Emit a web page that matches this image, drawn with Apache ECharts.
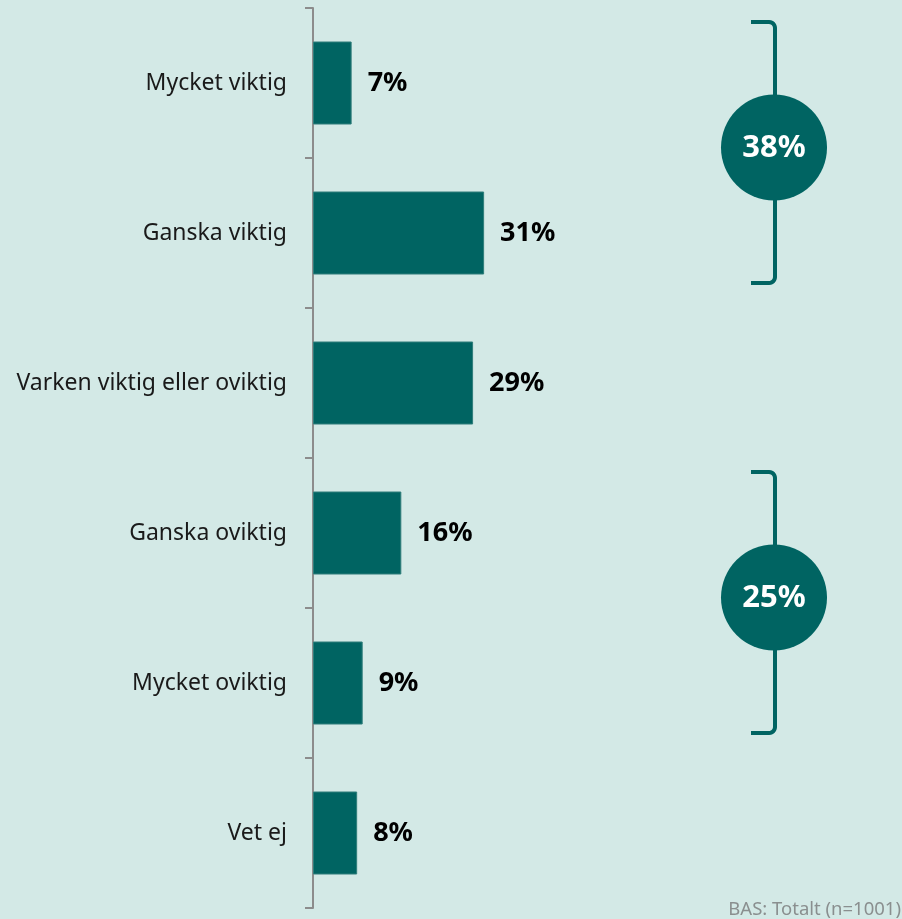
<!DOCTYPE html>
<html lang="sv">
<head>
    <meta charset="utf-8">
    <title>Viktighet</title>
    <script src="https://cdn.jsdelivr.net/npm/echarts@6/dist/echarts.min.js"></script>
    <style>
        html, body { margin: 0; padding: 0; background: #d3e9e6; }
        #chart { width: 902px; height: 919px; }
    </style>
</head>
<body>
<div id="chart"></div>

<script>
    // data
    var categories = ['Mycket viktig', 'Ganska viktig', 'Varken viktig eller oviktig', 'Ganska oviktig', 'Mycket oviktig', 'Vet ej'];
    var values = [7, 31, 29, 16, 9, 8];
    // sammanslagna grupper: index från/till + summa
    var groupFrom = [0, 3];
    var groupTo = [1, 4];
    var groupValues = [38, 25];
    var footnote = 'BAS: Totalt (n=1001)';

    var teal = '#006462';
    var font = '"Noto Sans", sans-serif';

    var chart = echarts.init(document.getElementById('chart'));
    chart.setOption({
        backgroundColor: '#d3e9e6',
        animation: false,
        grid: { left: 313, top: 8, width: 552, height: 900, containLabel: false },
        xAxis: {
            type: 'value', min: 0, max: 100,
            show: false
        },
        yAxis: {
            type: 'category',
            inverse: true,
            data: categories,
            axisLine: { show: true, lineStyle: { color: '#8c8c8c', width: 2 } },
            axisTick: { show: true, length: 8, lineStyle: { color: '#8c8c8c', width: 2 } },
            axisLabel: { color: '#1a1a1a', fontSize: 23, fontFamily: font, margin: 26 }
        },
        series: [{
            type: 'bar',
            data: values,
            barWidth: 83,
            itemStyle: { color: teal, borderColor: '#2f7d7a', borderWidth: 1 },
            label: {
                show: true, position: 'right', distance: 16,
                formatter: '{c}%', color: '#000', fontSize: 27, fontWeight: 'bold', fontFamily: font
            }
        }]
    });

    // klamrar och cirklar
    function bracketPoints(x, top, bot) {
        var pts = [[751, top]];
        var r = 6;
        for (var a = 0; a <= 6; a++) {
            var t = a / 6 * Math.PI / 2;
            pts.push([x - r + r * Math.sin(t), top + r - r * Math.cos(t)]);
        }
        for (var b = 0; b <= 6; b++) {
            var s = b / 6 * Math.PI / 2;
            pts.push([x - r + r * Math.cos(s), bot - r + r * Math.sin(s)]);
        }
        pts.push([751, bot]);
        return pts;
    }

    var graphics = [{
        type: 'text', right: 1, bottom: 0,
        style: { text: footnote, fill: '#8a8f8f', fontSize: 18.5, fontFamily: font }
    }];
    var bx = 775;
    groupValues.forEach(function (v, i) {
        var top = chart.convertToPixel({ yAxisIndex: 0 }, groupFrom[i]) - 61;
        var bot = chart.convertToPixel({ yAxisIndex: 0 }, groupTo[i]) + 50;
        graphics.push({
            type: 'polyline', shape: { points: bracketPoints(bx, top, bot) },
            style: { stroke: teal, lineWidth: 4, fill: null }
        });
        var cy = (top + bot) / 2 - 5;
        graphics.push({
            type: 'circle', shape: { cx: bx - 1, cy: cy, r: 53 },
            style: { fill: teal }
        });
        graphics.push({
            type: 'text', x: bx - 1, y: cy + 1,
            style: { text: v + '%', fill: '#fff', fontSize: 31, fontWeight: 'bold', fontFamily: font, align: 'center', verticalAlign: 'middle' }
        });
    });
    chart.setOption({ graphic: graphics });
</script>
</body>
</html>
